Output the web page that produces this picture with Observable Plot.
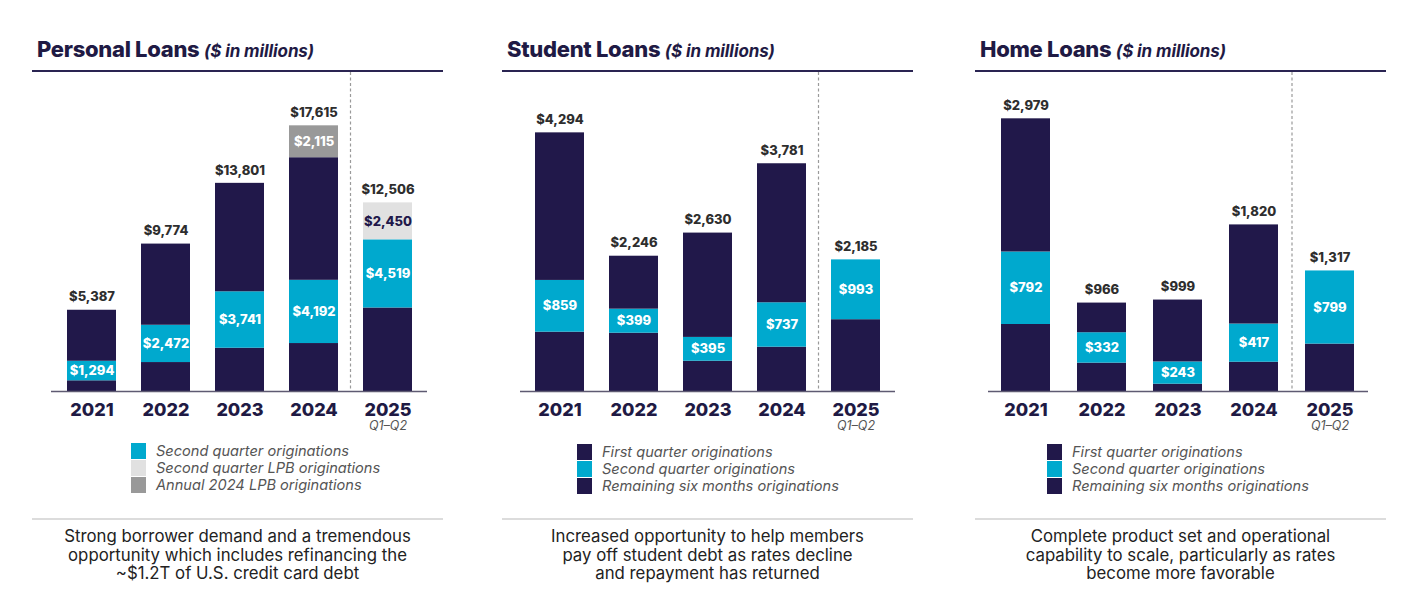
<!DOCTYPE html>
<html><head><meta charset="utf-8">
<script src="https://cdn.jsdelivr.net/npm/d3@7"></script>
<script src="https://cdn.jsdelivr.net/npm/@observablehq/plot@0.6"></script>
<style>
body{margin:0;background:#fff;font-family:Inter,"Open Sans",sans-serif;}
#root{position:relative;width:1426px;height:607px;overflow:hidden;background:#fff}
.abs{position:absolute}
.title{font-size:22px;font-weight:800;color:#1f1a44;letter-spacing:-0.3px;white-space:nowrap;line-height:26px}
.title i{font-size:17px;font-weight:700;letter-spacing:-0.1px}
.hrule{height:2px;background:#2a2452}
.sep{height:2px;background:#dcdcdc}
.legend{font-size:14.6px;font-style:italic;color:#555;white-space:nowrap}
.legend .row{display:flex;align-items:center;height:17px}
.legend .sw{width:15px;height:16px;margin-right:10px;flex:none}
.caption{font-size:16.8px;color:#222;text-align:center;line-height:18.5px}
svg [aria-label="x-axis tick label"] text{font-weight:800;font-size:18px;fill:#1f1a44}
</style>
</head><body><div id="root"></div>
<script>
const years = ["2021","2022","2023","2024","2025"];

// Personal Loans ($ in millions)
const personalTotal = [5387, 9774, 13801, 17615, 12506];
const personalQ1 = [710, 1920, 2870, 3180, 5537];
const personalQ2 = [1294, 2472, 3741, 4192, 4519];
const personalRest = [3383, 5382, 7190, 8128, 0];
const personalLPBAnnual = [0, 0, 0, 2115, 0];
const personalLPBQ2 = [0, 0, 0, 0, 2450];

// Student Loans
const studentTotal = [4294, 2246, 2630, 3781, 2185];
const studentQ1 = [985, 968, 503, 736, 1192];
const studentQ2 = [859, 399, 395, 737, 993];
const studentRest = [2450, 879, 1732, 2308, 0];

// Home Loans
const homeTotal = [2979, 966, 999, 1820, 1317];
const homeQ1 = [732, 310, 80, 320, 518];
const homeQ2 = [792, 332, 243, 417, 799];
const homeRest = [1455, 324, 676, 1083, 0];

const periodNotes = [{year: "2025", note: "Q1–Q2"}];

const seriesNames = ["First quarter originations", "Second quarter originations", "Remaining six months originations", "Annual 2024 LPB originations", "Second quarter LPB originations"];
const seriesColors = ["#21184a", "#00a9ce", "#21184a", "#999999", "#e1e1e1"];

const titles = ["Personal Loans", "Student Loans", "Home Loans"];
const captions = [
  ["Strong borrower demand and a tremendous", "opportunity which includes refinancing the", "~$1.2T of U.S. credit card debt"],
  ["Increased opportunity to help members", "pay off student debt as rates decline", "and repayment has returned"],
  ["Complete product set and operational", "capability to scale, particularly as rates", "become more favorable"]
];
const legends = [
  [1, 4, 3],
  [0, 1, 2],
  [0, 1, 2]
];

const fmt = d3.format("$,.0f");
const root = document.getElementById("root");

function rowsFor(seriesArrays) {
  const rows = [];
  seriesArrays.forEach(([si, arr]) => {
    years.forEach((y, i) => rows.push({year: y, series: seriesNames[si], value: arr[i]}));
  });
  return rows;
}

const panels = [
  {left: 32, ml: 19, mr: 16, ymax: 21150, pi: 0.34, po: 0.177, step: 75,
   rows: rowsFor([[0, personalQ1], [1, personalQ2], [2, personalRest], [3, personalLPBAnnual], [4, personalLPBQ2]]),
   totals: personalTotal},
  {left: 502, ml: 18, mr: 18, ymax: 5296, pi: 0.34, po: 0.177, step: 75,
   rows: rowsFor([[0, studentQ1], [1, studentQ2], [2, studentRest]]),
   totals: studentTotal},
  {left: 975, ml: 13, mr: 18, ymax: 3485, pi: 0.355, po: 0.177, step: 76,
   rows: rowsFor([[0, homeQ1], [1, homeQ2], [2, homeRest]]),
   totals: homeTotal}
];

const whiteLabelSeries = new Set([seriesNames[1], seriesNames[3]]);
const navyLabelSeries = new Set([seriesNames[4]]);

panels.forEach((p, k) => {
  const W = 411;
  const t = document.createElement("div");
  t.className = "abs title";
  t.style.left = (p.left + 5) + "px"; t.style.top = "36px";
  t.innerHTML = titles[k] + " <i>($ in millions)</i>";
  root.appendChild(t);
  const hr = document.createElement("div");
  hr.className = "abs hrule";
  hr.style.left = p.left + "px"; hr.style.top = "70px"; hr.style.width = W + "px";
  root.appendChild(hr);

  const totalsData = years.map((y, i) => ({year: y, total: p.totals[i]}));
  const chart = Plot.plot({
    width: W, height: 370,
    marginLeft: p.ml, marginRight: p.mr, marginTop: 0, marginBottom: 51,
    style: {fontFamily: "Inter, sans-serif", fontSize: "13px", color: "#1f1a44", background: "transparent", overflow: "visible"},
    x: {domain: years, paddingInner: p.pi, paddingOuter: p.po},
    y: {domain: [0, p.ymax], axis: null},
    color: {domain: seriesNames, range: seriesColors},
    marks: [
      Plot.barY(p.rows, Plot.stackY({x: "year", y: "value", z: "series", fill: "series"})),
      Plot.text(p.rows, Plot.stackY({x: "year", y: "value", z: "series",
        text: d => whiteLabelSeries.has(d.series) && d.value ? fmt(d.value) : "",
        fill: "white", fontWeight: 800, fontSize: 13})),
      Plot.text(p.rows, Plot.stackY({x: "year", y: "value", z: "series",
        text: d => navyLabelSeries.has(d.series) && d.value ? fmt(d.value) : "",
        fill: "#21184a", fontWeight: 800, fontSize: 13})),
      Plot.text(totalsData, {x: "year", y: "total", text: d => fmt(d.total), dy: -13, fill: "#2e2e2e", fontWeight: 800, fontSize: 13}),
      Plot.ruleY([0], {stroke: "#5e5a72", strokeWidth: 1.5}),
      Plot.ruleX(["2025"], {dx: -p.step / 2, stroke: "#9a9a9a", strokeDasharray: "3,2.5", strokeWidth: 1.2}),
      Plot.axisX({tickSize: 0, tickPadding: 12, label: null}),
      Plot.text(periodNotes, {x: "year", text: "note", frameAnchor: "bottom", dy: 38, fill: "#555", fontStyle: "italic", fontSize: 12.5})
    ]
  });
  const holder = document.createElement("div");
  holder.className = "abs";
  holder.style.left = p.left + "px"; holder.style.top = "72px";
  holder.appendChild(chart);
  root.appendChild(holder);

  const lg = document.createElement("div");
  lg.className = "abs legend";
  const lgLeft = [131, 577, 1047][k];
  lg.style.left = lgLeft + "px"; lg.style.top = [442, 443, 443][k] + "px";
  legends[k].forEach(si => {
    const r = document.createElement("div"); r.className = "row";
    const sw = document.createElement("div"); sw.className = "sw"; sw.style.background = seriesColors[si];
    const tx = document.createElement("span"); tx.textContent = seriesNames[si];
    r.appendChild(sw); r.appendChild(tx); lg.appendChild(r);
  });
  root.appendChild(lg);

  const sep = document.createElement("div");
  sep.className = "abs sep";
  sep.style.left = p.left + "px"; sep.style.top = "518px"; sep.style.width = W + "px";
  root.appendChild(sep);

  const cap = document.createElement("div");
  cap.className = "abs caption";
  cap.style.left = p.left + "px"; cap.style.top = "527px"; cap.style.width = W + "px";
  cap.innerHTML = captions[k].join("<br>");
  root.appendChild(cap);
});
</script>
</body></html>
